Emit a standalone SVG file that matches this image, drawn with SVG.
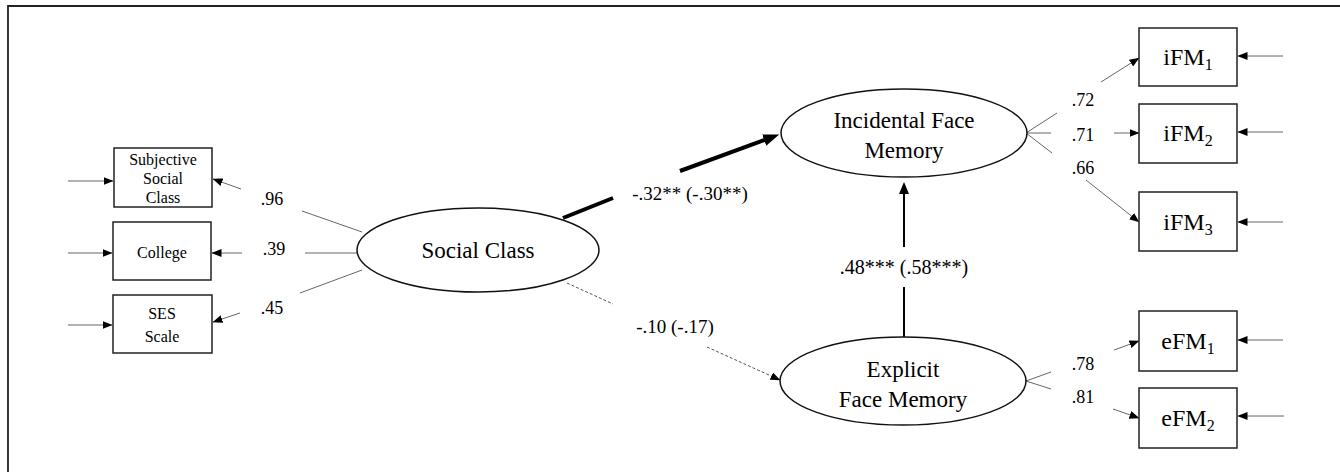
<svg xmlns="http://www.w3.org/2000/svg" width="1340" height="472" viewBox="0 0 1340 472">
<style>
text{font-family:"Liberation Serif","Times New Roman",serif;fill:#000}
.box{fill:#fff;stroke:#222;stroke-width:1.5}
.ell{fill:#fff;stroke:#111;stroke-width:1.5}
.thin{stroke:#666;stroke-width:1;fill:none}
.lab{font-size:18px;text-anchor:middle}
.plab{font-size:19px;text-anchor:middle}
.small{font-size:16px;text-anchor:middle}
.big{font-size:23px;text-anchor:middle}
.ind{font-size:24px;text-anchor:middle}
.sub{font-size:16px}
</style>
<defs>
<marker id="arr" markerUnits="userSpaceOnUse" markerWidth="10" markerHeight="8" viewBox="0 0 10 8" refX="9.5" refY="4" orient="auto"><path d="M0,0 L10,4 L0,8 z" fill="#000"/></marker>
<marker id="arrMid" markerUnits="userSpaceOnUse" markerWidth="12" markerHeight="10" viewBox="0 0 12 10" refX="4" refY="5" orient="auto"><path d="M0,0 L12,5 L0,10 z" fill="#000"/></marker>
<marker id="arrBig" markerUnits="userSpaceOnUse" markerWidth="16" markerHeight="12" viewBox="0 0 16 12" refX="3" refY="6" orient="auto"><path d="M0,0 L16,6 L0,12 z" fill="#000"/></marker>
</defs>
<path d="M8,472 V6 H1340" fill="none" stroke="#222" stroke-width="1.8"/>

<g id="connectors">
<line class="thin" x1="68" y1="181" x2="113" y2="181" marker-end="url(#arr)"/>
<line class="thin" x1="68" y1="253" x2="112" y2="253" marker-end="url(#arr)"/>
<line class="thin" x1="68" y1="325" x2="112" y2="325" marker-end="url(#arr)"/>
<line class="thin" x1="362" y1="232" x2="302" y2="211"/>
<line class="thin" x1="241" y1="189" x2="213" y2="179" marker-end="url(#arr)"/>
<line class="thin" x1="358" y1="253" x2="305" y2="253"/>
<line class="thin" x1="242" y1="253" x2="212" y2="253" marker-end="url(#arr)"/>
<line class="thin" x1="362" y1="270" x2="300" y2="293"/>
<line class="thin" x1="240" y1="313" x2="213" y2="322" marker-end="url(#arr)"/>
<line x1="563" y1="218" x2="613" y2="198" stroke="#000" stroke-width="4"/>
<line x1="680" y1="171" x2="767" y2="139" stroke="#000" stroke-width="4" marker-end="url(#arrBig)"/>
<line x1="567" y1="283" x2="613" y2="304" stroke="#555" stroke-width="1" stroke-dasharray="3,2"/>
<line x1="707" y1="347" x2="780" y2="380" stroke="#555" stroke-width="1" stroke-dasharray="3,2" marker-end="url(#arr)"/>
<line x1="904" y1="338" x2="904" y2="287" stroke="#000" stroke-width="2"/>
<line x1="904" y1="247" x2="904" y2="190" stroke="#000" stroke-width="2" marker-end="url(#arrMid)"/>
<line class="thin" x1="1026" y1="133" x2="1057" y2="113"/>
<line class="thin" x1="1026" y1="133" x2="1051" y2="133"/>
<line class="thin" x1="1026" y1="133" x2="1052" y2="153"/>
<line class="thin" x1="1101" y1="82" x2="1139" y2="58" marker-end="url(#arr)"/>
<line class="thin" x1="1114" y1="133" x2="1139" y2="133" marker-end="url(#arr)"/>
<line class="thin" x1="1086" y1="180" x2="1139" y2="222" marker-end="url(#arr)"/>
<line class="thin" x1="1026" y1="381" x2="1051" y2="372"/>
<line class="thin" x1="1026" y1="381" x2="1051" y2="389"/>
<line class="thin" x1="1114" y1="350" x2="1139" y2="341" marker-end="url(#arr)"/>
<line class="thin" x1="1113" y1="409" x2="1139" y2="418" marker-end="url(#arr)"/>
<line class="thin" x1="1283" y1="56" x2="1238" y2="56" marker-end="url(#arr)"/>
<line class="thin" x1="1283" y1="132" x2="1238" y2="132" marker-end="url(#arr)"/>
<line class="thin" x1="1283" y1="222" x2="1238" y2="222" marker-end="url(#arr)"/>
<line class="thin" x1="1283" y1="340" x2="1238" y2="340" marker-end="url(#arr)"/>
<line class="thin" x1="1284" y1="416" x2="1238" y2="416" marker-end="url(#arr)"/>
<text class="lab" x="272" y="205">.96</text>
<text class="lab" x="274" y="255">.39</text>
<text class="lab" x="272" y="314">.45</text>
<text class="plab" x="690" y="200">-.32** (-.30**)</text>
<text class="plab" x="675" y="333">-.10 (-.17)</text>
<text class="plab" x="904" y="274" style="font-size:20px">.48*** (.58***)</text>
<text class="lab" x="1083" y="106">.72</text>
<text class="lab" x="1083" y="141">.71</text>
<text class="lab" x="1083" y="174">.66</text>
<text class="lab" x="1083" y="370">.78</text>
<text class="lab" x="1083" y="403">.81</text>
</g>

<g id="subjective">
<rect class="box" x="114" y="148" width="98" height="59"/>
<text class="small" x="163" y="165">Subjective</text>
<text class="small" x="163" y="184">Social</text>
<text class="small" x="163" y="203">Class</text>
</g>
<g id="college">
<rect class="box" x="113" y="222" width="98" height="58"/>
<text class="small" x="162" y="258">College</text>
</g>
<g id="ses">
<rect class="box" x="113" y="295" width="99" height="58"/>
<text class="small" x="162" y="319">SES</text>
<text class="small" x="162" y="342">Scale</text>
</g>
<g id="socialclass">
<ellipse class="ell" cx="478" cy="250" rx="121" ry="42"/>
<text class="big" x="478" y="258">Social Class</text>
</g>
<g id="incidental">
<ellipse class="ell" cx="904" cy="133" rx="123" ry="44"/>
<text class="big" x="904" y="128">Incidental Face</text>
<text class="big" x="904" y="158">Memory</text>
</g>
<g id="explicit">
<ellipse class="ell" cx="903" cy="381" rx="123" ry="44"/>
<text class="big" x="903" y="377">Explicit</text>
<text class="big" x="903" y="407">Face Memory</text>
</g>
<g id="iFM1">
<rect class="box" x="1139" y="28" width="98" height="58"/>
<text class="ind" x="1188" y="65">iFM<tspan class="sub" dy="5">1</tspan></text>
</g>
<g id="iFM2">
<rect class="box" x="1139" y="104" width="98" height="59"/>
<text class="ind" x="1188" y="141">iFM<tspan class="sub" dy="5">2</tspan></text>
</g>
<g id="iFM3">
<rect class="box" x="1139" y="192" width="98" height="59"/>
<text class="ind" x="1188" y="230">iFM<tspan class="sub" dy="5">3</tspan></text>
</g>
<g id="eFM1">
<rect class="box" x="1139" y="311" width="98" height="60"/>
<text class="ind" x="1188" y="349">eFM<tspan class="sub" dy="5">1</tspan></text>
</g>
<g id="eFM2">
<rect class="box" x="1139" y="388" width="98" height="60"/>
<text class="ind" x="1188" y="426">eFM<tspan class="sub" dy="5">2</tspan></text>
</g>
</svg>
